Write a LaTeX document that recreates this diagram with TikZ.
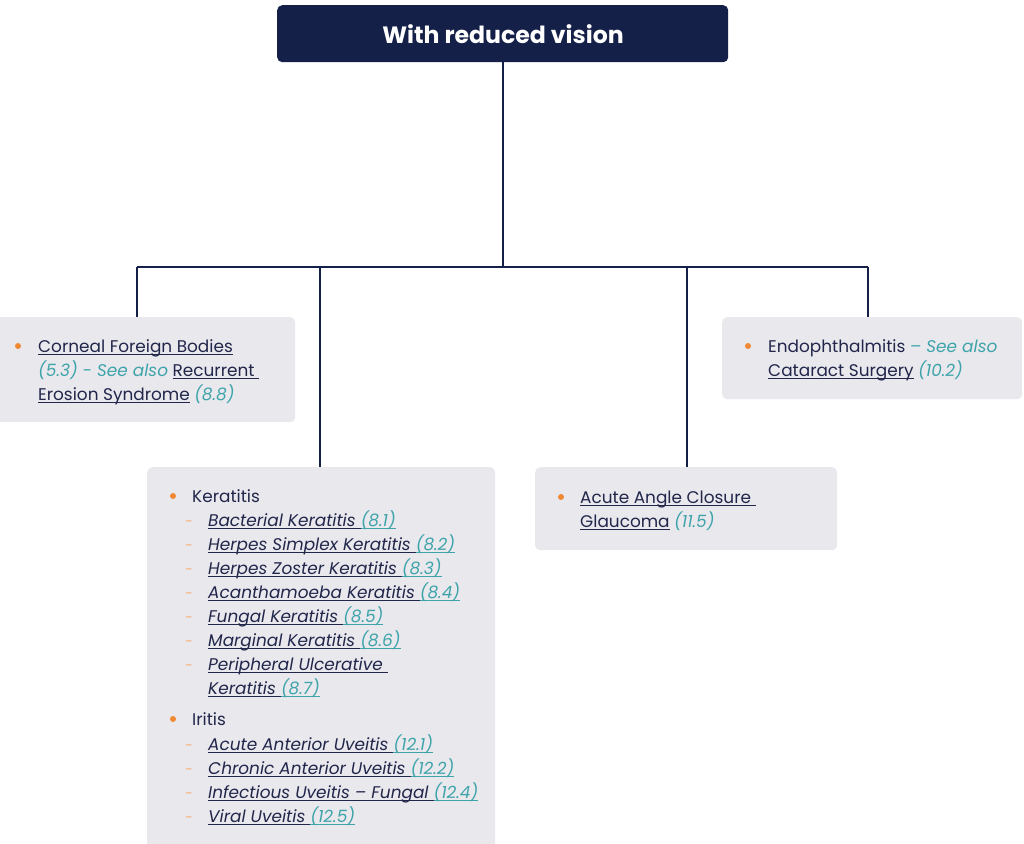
\documentclass[tikz,border=0pt]{standalone}
\usepackage{fontspec}
\setmainfont{Poppins}
\definecolor{navy}{RGB}{21,32,72}
\definecolor{ink}{RGB}{33,38,74}
\definecolor{boxgray}{RGB}{232,232,237}
\definecolor{tealc}{RGB}{62,164,170}
\definecolor{orangec}{RGB}{240,136,52}
\definecolor{dashc}{RGB}{246,176,120}
\newcommand{\myul}[1]{\setbox0\hbox{#1}\rlap{\rule[-3pt]{\wd0}{0.8pt}}\box0\relax}
\newcommand{\tl}[1]{{\color{tealc}\itshape #1}}
\newcommand{\tul}[1]{{\color{tealc}\myul{\itshape #1}}}
\tikzset{
  box/.style={fill=boxgray, rounded corners=5pt, anchor=north west, inner sep=0pt},
  txt/.style={anchor=base west, inner sep=0pt, text=ink, font=\fontsize{16.9}{20}\selectfont},
  conn/.style={draw=navy, line width=1.5pt},
  dot/.style={circle, fill=orangec, inner sep=0pt, minimum size=6pt},
  sdash/.style={anchor=base west, inner sep=0pt, text=dashc, font=\fontsize{14}{20}\selectfont}
}
\begin{document}
\begin{tikzpicture}[x=1pt,y=-1pt]
\useasboundingbox (0,0) rectangle (1024,843);
% header
\node[fill=navy, rounded corners=5pt, minimum width=451pt, minimum height=57pt, anchor=north west, inner sep=0pt] (top) at (277,5) {};
\node[text=white, font=\fontsize{23.6}{28}\selectfont\bfseries, inner sep=0pt] (toptext) at (503,34) {With reduced vision};
% boxes
\node[box, minimum width=316pt, minimum height=105pt] (b1) at (-21,317) {};
\node[box, minimum width=300pt, minimum height=82pt] (b2) at (722,317) {};
\node[box, minimum width=348pt, minimum height=390pt] (b3) at (147,467) {};
\node[box, minimum width=302pt, minimum height=83pt] (b4) at (535,467) {};
% connectors
\coordinate (jc) at (503,267);
\coordinate (j1) at (137,267);
\coordinate (j3) at (320,267);
\coordinate (j4) at (687,267);
\coordinate (j2) at (868,267);
\draw[conn] (top.south -| jc) -- (jc);
\draw[conn] (j1) -- (j2);
\draw[conn] (j1) -- (j1 |- b1.north);
\draw[conn] (j3) -- (j3 |- b3.north);
\draw[conn] (j4) -- (j4 |- b4.north);
\draw[conn] (j2) -- (j2 |- b2.north);
% box 1
\node[dot] (d1) at (18,346) {};
\node[txt] (t1a) at (38,352) {\myul{Corneal Foreign Bodies}};
\node[txt] (t1b) at (38,376) {\tl{(5.3) - See also} \myul{Recurrent }};
\node[txt] (t1c) at (38,400) {\myul{Erosion Syndrome} \tl{(8.8)}};
% box 2
\node[dot] (d2) at (748,346) {};
\node[txt] (t2a) at (768,352) {Endophthalmitis \tl{– See also}};
\node[txt] (t2b) at (768,376) {\myul{Cataract Surgery} \tl{(10.2)}};
% box 4
\node[dot] (d4) at (561,497) {};
\node[txt] (t4a) at (580,503) {\myul{Acute Angle Closure }};
\node[txt] (t4b) at (580,527) {\myul{Glaucoma} \tl{(11.5)}};
% box 3
\node[dot] (d3a) at (173,496) {};
\node[txt] (k0) at (192,502) {Keratitis};
\foreach \i/\yy/\a/\n in {1/526/Bacterial Keratitis/8.1, 2/550/Herpes Simplex Keratitis/8.2, 3/574/Herpes Zoster Keratitis/8.3, 4/598/Acanthamoeba Keratitis/8.4, 5/622/Fungal Keratitis/8.5, 6/646/Marginal Keratitis/8.6}{
  \node[sdash] (kd\i) at (185,\yy) {-};
  \node[txt] (k\i) at (208,\yy) {\myul{\itshape \a\ }\tul{(\n)}};
}
\node[sdash] (kd7) at (185,670) {-};
\node[txt] (k7) at (208,670) {\myul{\itshape Peripheral Ulcerative }};
\node[txt] (k7b) at (208,694) {\myul{\itshape Keratitis }\tul{(8.7)}};
\node[dot] (d3b) at (173,719) {};
\node[txt] (i0) at (192,725) {Iritis};
\foreach \i/\yy/\a/\n in {1/750/Acute Anterior Uveitis/12.1, 2/774/Chronic Anterior Uveitis/12.2, 3/798/Infectious Uveitis – Fungal/12.4, 4/822/Viral Uveitis/12.5}{
  \node[sdash] (id\i) at (185,\yy) {-};
  \node[txt] (i\i) at (208,\yy) {\myul{\itshape \a\ }\tul{(\n)}};
}
\end{tikzpicture}
\end{document}
